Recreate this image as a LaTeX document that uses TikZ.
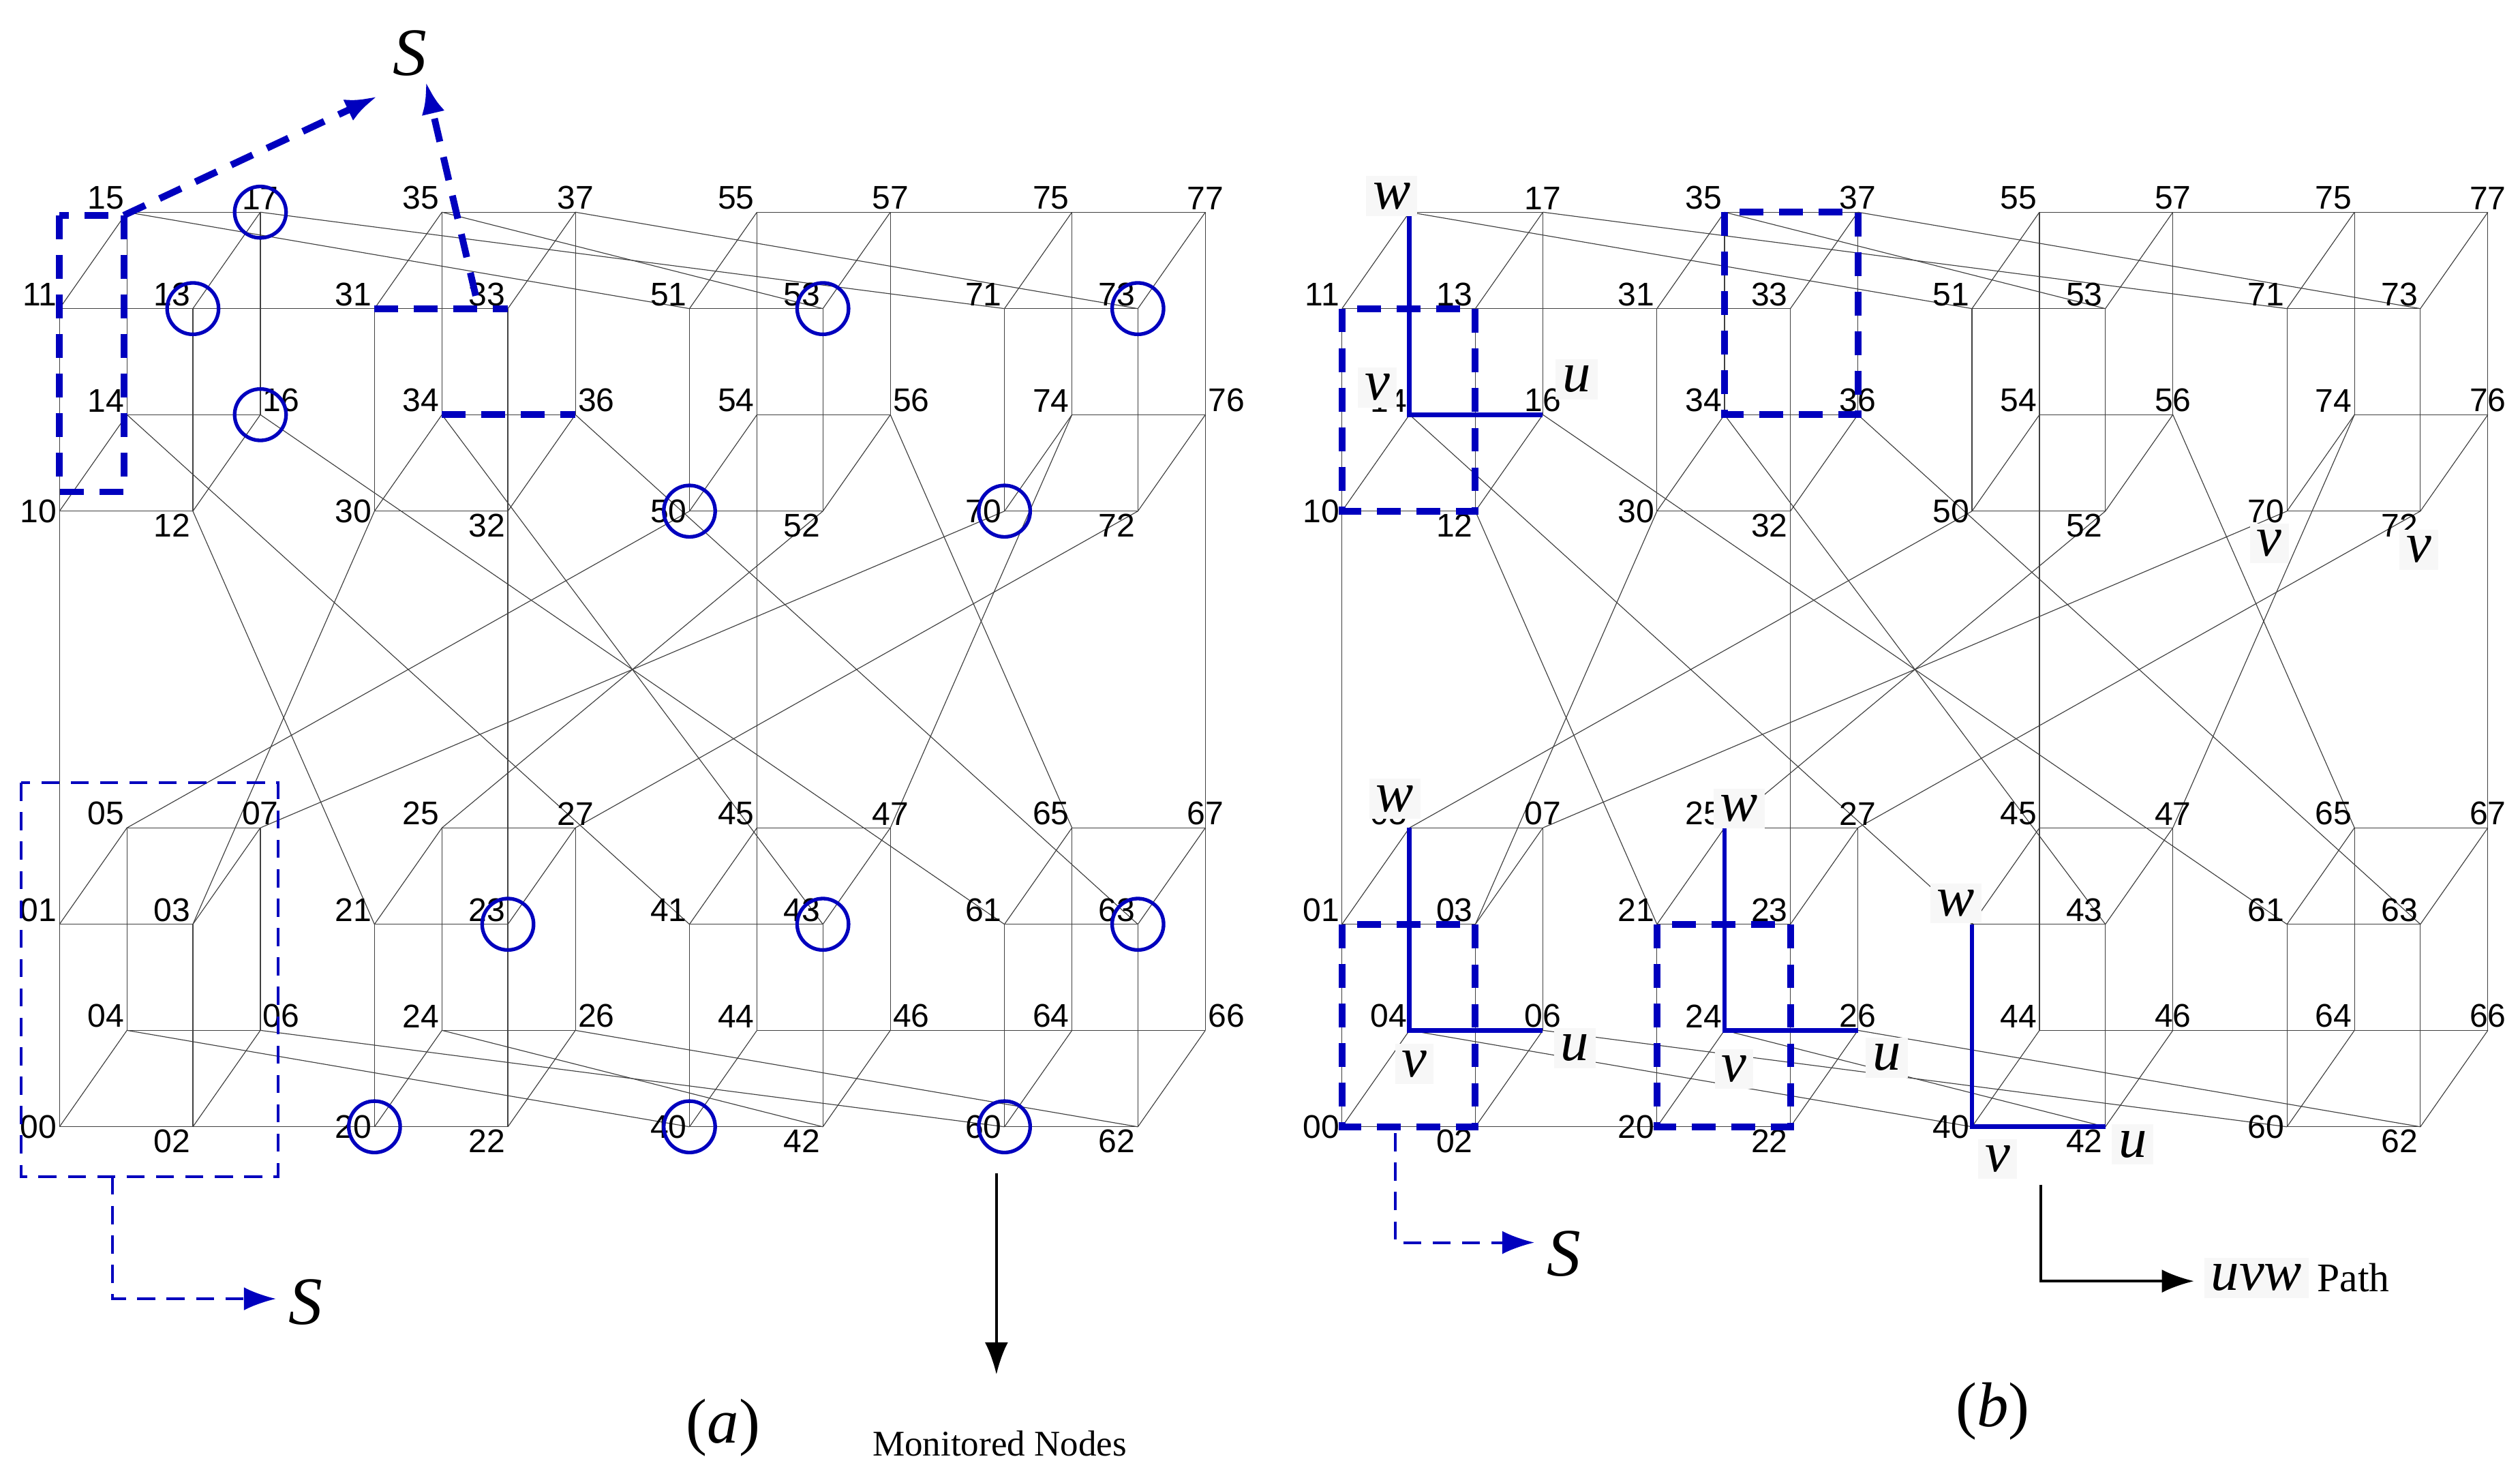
\documentclass[tikz,border=0pt]{standalone}
\usepackage{fontspec}
\setmainfont{Liberation Sans}
\newfontfamily\tms{Liberation Serif}
\usetikzlibrary{arrows.meta, calc}
\definecolor{netblue}{RGB}{0,0,190}

\begin{document}
\begin{tikzpicture}[x=0.025cm, y=-0.025cm,
    link/.style={black!75, line width=0.35pt},
    num/.style={font=\fontsize{14.5}{15}\selectfont, inner sep=1pt},
    mon/.style={draw=netblue, line width=1.6pt},
    route/.style={draw=netblue, line width=3pt, dash pattern=on 10.5pt off 7pt},
    thinroute/.style={draw=netblue, line width=1.2pt, dash pattern=on 8pt off 5pt},
    walk/.style={draw=netblue, line width=2pt},
    tip/.style={-{Latex[length=0.5cm, width=0.36cm]}},
    sym/.style={font=\tms\itshape\fontsize{30}{30}\selectfont, inner sep=1pt},
    tag/.style={fill=gray!6, inner sep=3pt, font=\tms\itshape\fontsize{25}{25}\selectfont},
    subcap/.style={font=\tms\fontsize{28}{28}\selectfont}]
    \useasboundingbox (0,0) rectangle (1568,918);
    % Vertices of both networks
    \foreach \p/\ox in {a/0,b/798}
    {
        \foreach \X in {0,...,7}
        {
            \foreach \Y in {0,...,7}
            {
                \pgfmathsetmacro\vx{37+196*int(\X/2)+83*mod(int(\Y/2),2)+42*int(\Y/4)+\ox}
                \pgfmathsetmacro\vy{701-383*mod(\X,2)-126*mod(\Y,2)-60*int(\Y/4)}
                \coordinate (\p\X\Y) at (\vx,\vy);
            }
        }
    }
    % Cube edges and transpose links
    \foreach \p in {a,b}
    {
        \foreach \X in {0,...,7}
        {
            \foreach \i/\j in {0/1,0/2,1/3,2/3,4/5,4/6,5/7,6/7,0/4,1/5,2/6,3/7}
            {
                \draw[link] (\p\X\i) -- (\p\X\j);
            }
        }
        \foreach \X in {0,...,6}
        {
            \pgfmathtruncatemacro\Ys{\X+1}
            \foreach \Y in {\Ys,...,7}
            {
                \draw[link] (\p\X\Y) -- (\p\Y\X);
            }
        }
    }
    % Vertex numbers
    \foreach \X in {0,...,7}
    {
        \foreach \Y/\anc in {0/east,1/south east,2/north east,3/south east,4/south east,5/south east,6/south west,7/south}
        {
            \node[num, anchor=\anc] (la\X\Y) at (a\X\Y) {\X\Y};
        }
        \foreach \Y/\anc in {0/east,1/south east,2/north east,3/south east,4/south east,5/south east,6/south,7/south}
        {
            \node[num, anchor=\anc] (lb\X\Y) at (b\X\Y) {\X\Y};
        }
    }
    % (a) monitored nodes
    \foreach \n in {17,13,16,53,73,50,70,23,43,63,20,40,60}
    {
        \draw[mon] (a\n) circle (16);
    }
    \node[sym] (sA) at (255,33) {S};
    \node[sym] (sB) at (190,810) {S};
    \coordinate (cTL) at (37,134);
    \coordinate (cTR) at (77,134);
    \coordinate (cBR) at (77,306);
    \coordinate (cA) at (296,184);
    \draw[route] (cTL) rectangle (cBR);
    \draw[route, tip] (cTR) -- ($(sA.west)+(-8,27)$);
    \draw[route, tip] (cA) -- ($(sA.south)+(10,2)$);
    \draw[route] (a31) -- (a33);
    \draw[route] (a34) -- (a36);
    \draw[thinroute] (13,487) rectangle (173,732);
    \coordinate (dA) at (70,732);
    \draw[thinroute, tip] (dA) |- ($(sB.west)+(-6,-2)$);
    \coordinate (mA) at (620,730);
    \node[font=\tms\fontsize{16}{16}\selectfont] (mon) at (622,898) {Monitored Nodes};
    \draw[line width=1.2pt, tip] (mA) -- ($(mon.north)+(-2,-30)$);
    \node[subcap] (capA) at (450,888) {(\textit{a})};

    % (b) uvw paths
    \draw[route] (b11) rectangle (b12);
    \draw[route] (b35) rectangle (b36);
    \draw[route] (b21) rectangle (b22);
    \draw[route] (b01) rectangle (b02);
    \draw[walk] (b15) -- (b14) -- (b16);
    \draw[walk] (b05) -- (b04) -- (b06);
    \draw[walk] (b25) -- (b24) -- (b26);
    \draw[walk] (b41) -- (b40) -- (b42);
    \foreach \t/\x/\y in {w/866/122, v/857/241, u/981/236, w/868/497, v/880/662, u/980/652,
                          w/1082/503, v/1079/665, u/1174/658, w/1217/562, v/1243/721, u/1327/712,
                          v/1412/338, v/1505/342}
    {
        \node[tag] at (\x,\y) {\t};
    }
    \node[sym] (sC) at (973,780) {S};
    \coordinate (dB) at (868,705);
    \draw[thinroute, tip] (dB) |- ($(sC.west)+(-6,-7)$);
    \node[tag] (uvw) at (1404,795) {uvw};
    \node[font=\tms\fontsize{18}{18}\selectfont, anchor=west] (pth) at (uvw.east) {Path};
    \coordinate (pA) at (1270,737);
    \draw[line width=1.2pt, tip] (pA) |- ($(uvw.west)+(-6,2)$);
    \node[subcap] (capB) at (1240,878) {(\textit{b})};
\end{tikzpicture}
\end{document}
